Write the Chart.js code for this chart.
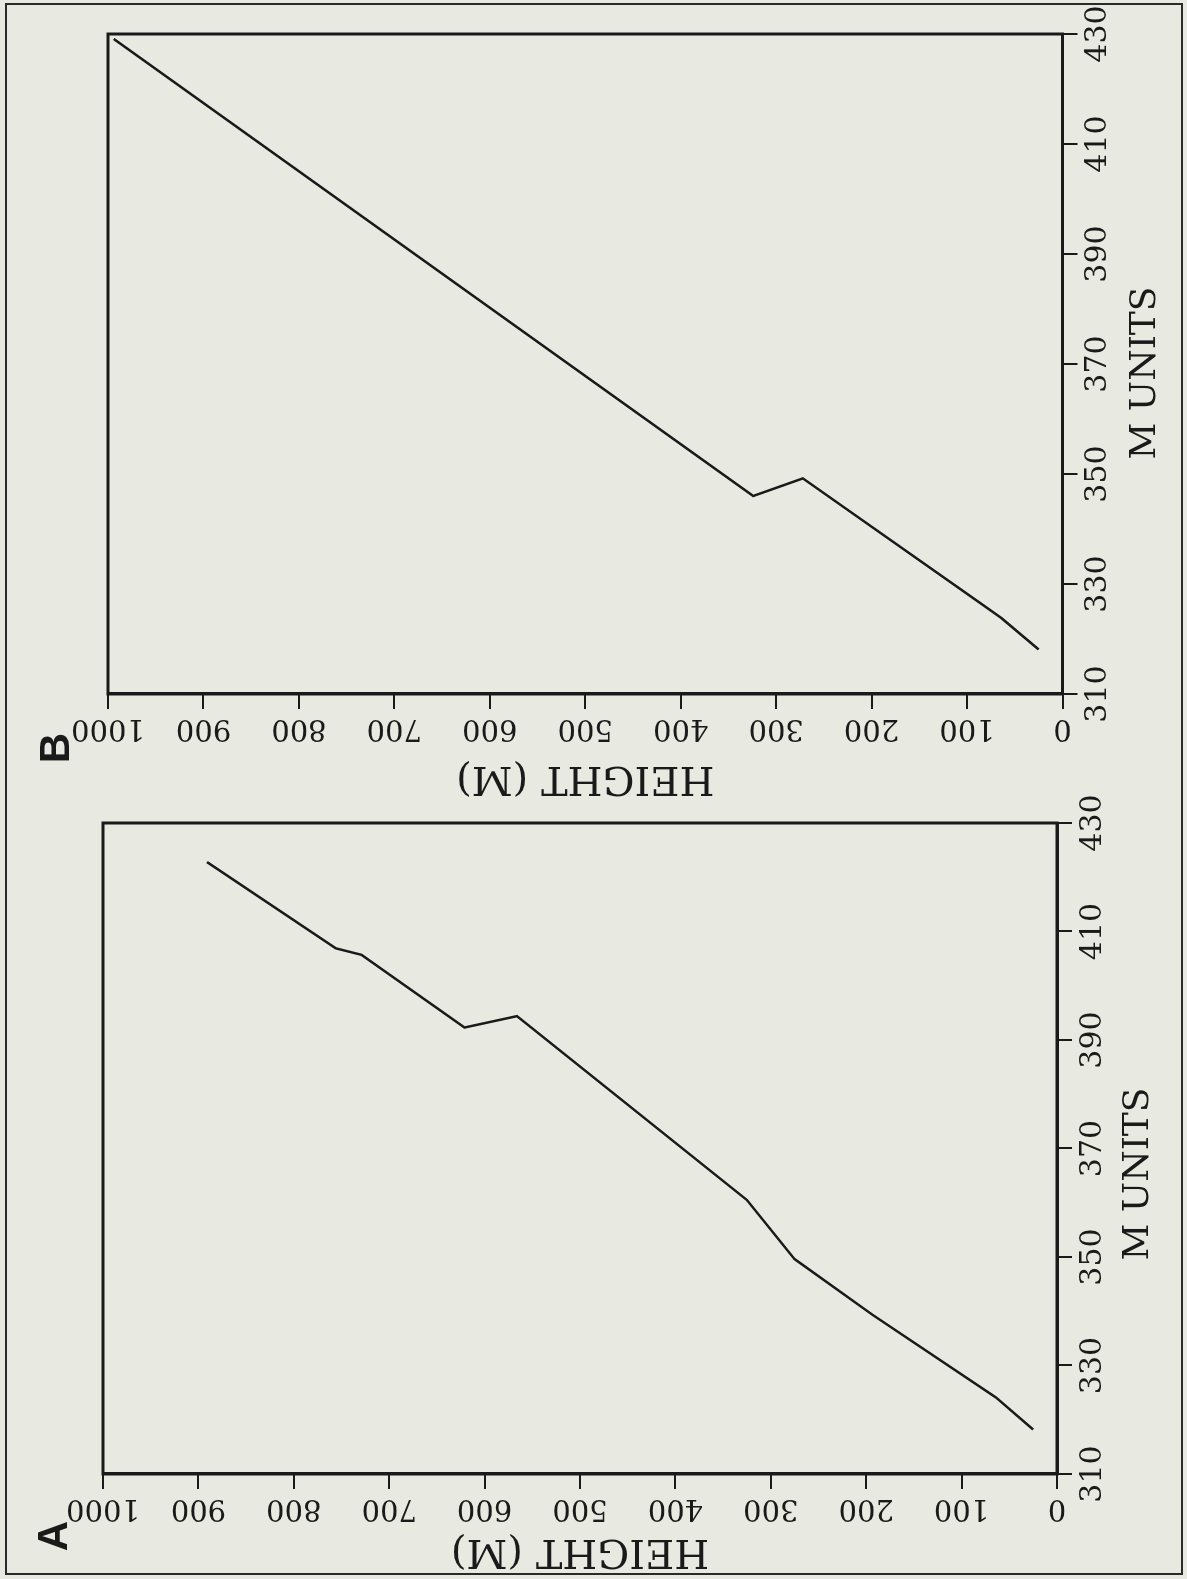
<!DOCTYPE html>
<html>
<head>
<meta charset="utf-8">
<title>Height vs M units</title>
<script src="https://cdn.jsdelivr.net/npm/chart.js@4.4.1/dist/chart.umd.min.js"></script>
<style>
  html, body { margin: 0; padding: 0; background: #e8e9e1; }
  body { width: 1187px; height: 1579px; overflow: hidden; position: relative; }
  #frame { position: absolute; left: 5px; top: 3px; width: 1174px; height: 1568px; border: 2px solid #2a2a2a; }
  /* the figure is laid out upright, then turned a quarter turn to the left like the scan */
  #page { position: absolute; left: 0; top: 0; width: 1579px; height: 1187px; transform-origin: 0 0; transform: translateY(1579px) rotate(-90deg); }
  #page canvas { position: absolute; top: 0; }
  #chartA { left: 0; }
  #chartB { left: 760px; }
  .panel-letter { position: absolute; font: bold 42px "Liberation Sans", Arial, sans-serif; color: #1a1a1a; transform: translate(-50%, -50%); line-height: 1; }
</style>
</head>
<body>
<div id="frame"></div>
<div id="page">
  <canvas id="chartA" width="800" height="1187"></canvas>
  <canvas id="chartB" width="819" height="1187"></canvas>
  <div class="panel-letter" style="left:43px; top:53px;">A</div>
  <div class="panel-letter" style="left:831px; top:55px;">B</div>
</div>
<script>
// Panel A
const mUnitsA = [318.2, 324.1, 339.3, 349.6, 360.5, 394.4, 392.3, 405.7, 406.9, 422.8];
const heightA = [25, 64, 193, 275, 325, 566, 621, 729, 756, 891];

// Panel B
const mUnitsB = [318.1, 323.8, 326.5, 349.2, 346.0, 429.1];
const heightB = [25, 64, 86, 272, 324, 994];

// Axis ticks
const mTicks = [310, 330, 350, 370, 390, 410, 430];
const heightTicks = [0, 100, 200, 300, 400, 500, 600, 700, 800, 900, 1000];

const xTitle = 'M UNITS';
const yTitle = 'HEIGHT (M)';

const ink = '#1b1a1a';
const serif = "'DejaVu Serif', 'Liberation Serif', serif";

// box round the plot area
const boxPlugin = {
    id: 'plotBox',
    afterDraw(chart) {
        const { ctx, chartArea: a } = chart;
        ctx.save();
        ctx.strokeStyle = ink;
        ctx.lineWidth = 3;
        ctx.strokeRect(a.left, a.top, a.right - a.left, a.bottom - a.top);
        ctx.restore();
    },
};

// height labels run along the axis in the original, so draw them turned
const sideTicksPlugin = {
    id: 'sideTicks',
    afterDraw(chart) {
        const ctx = chart.ctx;
        const y = chart.scales.y;
        ctx.save();
        ctx.font = '29px ' + serif;
        ctx.fillStyle = ink;
        ctx.textAlign = 'center';
        ctx.textBaseline = 'middle';
        heightTicks.forEach((v) => {
            ctx.save();
            ctx.translate(y.right - 34, y.getPixelForValue(v));
            ctx.rotate(-Math.PI / 2);
            ctx.fillText(String(v), 0, 0);
            ctx.restore();
        });
        ctx.restore();
    },
};

// the M UNITS caption sits a little off centre in the scan
const bottomTitlePlugin = {
    id: 'bottomTitle',
    afterDraw(chart, args, opts) {
        const ctx = chart.ctx;
        ctx.save();
        ctx.font = '36px ' + serif;
        ctx.fillStyle = ink;
        ctx.textAlign = 'center';
        ctx.textBaseline = 'middle';
        ctx.fillText(xTitle, opts.x, opts.y);
        ctx.restore();
    },
};

function makePanel(id, mVals, hVals, g) {
    const points = mVals.map((m, i) => ({ x: m, y: hVals[i] }));

    return new Chart(document.getElementById(id), {
        type: 'scatter',
        data: {
            datasets: [{
                data: points,
                showLine: true,
                borderColor: ink,
                borderWidth: 2.5,
                pointRadius: 0,
                tension: 0,
                fill: false,
            }],
        },
        options: {
            responsive: false,
            animation: false,
            devicePixelRatio: 1,
            layout: { padding: g.padding },
            plugins: {
                legend: { display: false },
                tooltip: { enabled: false },
                bottomTitle: { x: g.xTitleX, y: g.xTitleY },
            },
            scales: {
                x: {
                    type: 'linear',
                    min: mTicks[0],
                    max: mTicks[mTicks.length - 1],
                    afterBuildTicks: (s) => { s.ticks = mTicks.map((v) => ({ value: v })); },
                    afterFit: (s) => { s.height = 110; s.paddingLeft = 0; s.paddingRight = 0; },
                    grid: { display: true, drawOnChartArea: false, drawTicks: true, tickLength: 15, color: ink, lineWidth: 2 },
                    border: { display: true, color: ink, width: 3 },
                    ticks: { color: ink, padding: 3, maxRotation: 0, font: { family: serif, size: 30 } },
                    title: { display: false },
                },
                y: {
                    type: 'linear',
                    min: heightTicks[0],
                    max: heightTicks[heightTicks.length - 1],
                    afterBuildTicks: (s) => { s.ticks = heightTicks.map((v) => ({ value: v })); },
                    afterFit: (s) => { s.width = g.yWidth; s.paddingTop = 0; s.paddingBottom = 0; },
                    grid: { display: true, drawOnChartArea: false, drawTicks: true, tickLength: 15, color: ink, lineWidth: 2 },
                    border: { display: true, color: ink, width: 3 },
                    ticks: { display: false },
                    title: {
                        display: true,
                        text: yTitle,
                        color: ink,
                        font: { family: serif, size: 40 },
                        padding: { top: g.yTitlePad, bottom: 0 },
                    },
                },
            },
        },
        plugins: [boxPlugin, sideTicksPlugin, bottomTitlePlugin],
    });
}

makePanel('chartA', mUnitsA, heightA, {
    padding: { left: 0, top: 103, right: 44, bottom: 20 },
    yWidth: 105,
    yTitlePad: 5,
    xTitleX: 405,
    xTitleY: 1139,
});

makePanel('chartB', mUnitsB, heightB, {
    padding: { left: 0, top: 108, right: 34, bottom: 14.5 },
    yWidth: 125,
    yTitlePad: 18,
    xTitleX: 446,
    xTitleY: 1146,
});
</script>
</body>
</html>
